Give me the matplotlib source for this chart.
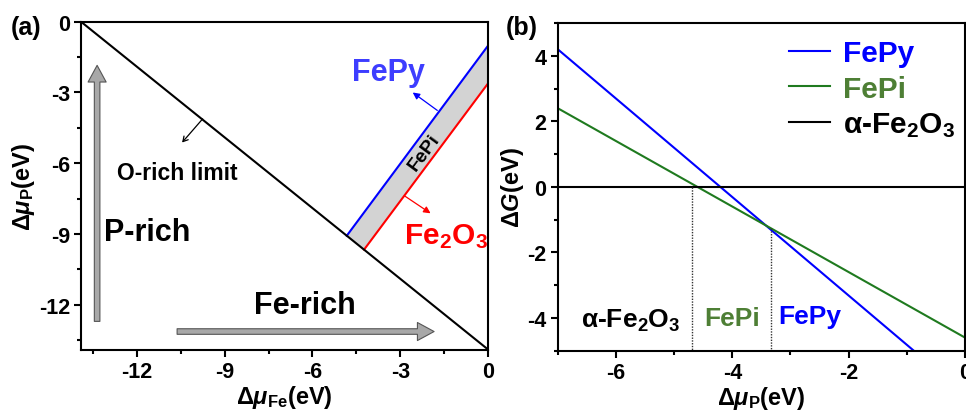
import matplotlib
matplotlib.use("Agg")
import matplotlib.pyplot as plt
from matplotlib.ticker import MultipleLocator

plt.rcParams['font.family'] = ['Liberation Sans', 'DejaVu Sans']
plt.rcParams['font.weight'] = 'bold'
plt.rcParams['axes.labelweight'] = 'bold'
plt.rcParams['axes.unicode_minus'] = False
plt.rcParams['mathtext.fontset'] = 'custom'
plt.rcParams['mathtext.rm'] = 'Liberation Sans:bold'
plt.rcParams['mathtext.bf'] = 'Liberation Sans:bold'
plt.rcParams['mathtext.it'] = 'Liberation Sans:bold:italic'
plt.rcParams['mathtext.default'] = 'bf'

# ---------------- data: panel (a) ----------------
limit_x = [-13.9, 0.0]
limit_y = [0.0, -13.9]
fepy_a_x = [-4.83, 0.0]
fepy_a_y = [-9.07, -1.0]
fe2o3_a_x = [-4.24, 0.0]
fe2o3_a_y = [-9.66, -2.6]
a_xticks = [-12, -9, -6, -3, 0]
a_yticks = [0, -3, -6, -9, -12]

# ---------------- data: panel (b) ----------------
fepy_b_x = [-7.0, -0.88]
fepy_b_y = [4.2, -5.0]
fepi_b_x = [-7.0, 0.0]
fepi_b_y = [2.4, -4.6]
fe2o3_b_x = [-7.0, 0.0]
fe2o3_b_y = [0.0, 0.0]
boundary_x = [-4.7, -3.34]
boundary_top = [0.0, -1.27]
b_xticks = [-6, -4, -2, 0]
b_yticks = [-4, -2, 0, 2, 4]

BLUE = '#0000ff'
RED = '#ff0000'
GREEN_LINE = '#1f7a1f'
GREEN_TEXT = '#4e7f35'

fig = plt.figure(figsize=(9.66, 4.14), dpi=100)
axA = fig.add_axes([81/966, 1-350.7/414, (488.3-81)/966, (350.7-22.7)/414])
axB = fig.add_axes([557.7/966, 1-351.7/414, (965-557.7)/966, (351.7-24)/414])

def style(ax):
    for s in ax.spines.values():
        s.set_linewidth(1.5)
    ax.tick_params(which='both', direction='out', top=False, right=False,
                   labelsize=15.5, width=1.5)
    ax.tick_params(which='major', length=5, pad=3)
    ax.tick_params(which='minor', length=3)
    for lab in ax.get_xticklabels() + ax.get_yticklabels():
        lab.set_fontweight('bold')

# ---------------- panel (a) ----------------
axA.set_xlim(limit_x[0], 0)
axA.set_ylim(limit_y[1], 0)
axA.plot(limit_x, limit_y, color='black', lw=1.5, zorder=3)
poly_x = [fepy_a_x[0], fepy_a_x[1], fe2o3_a_x[1], fe2o3_a_x[0]]
poly_y = [fepy_a_y[0], fepy_a_y[1], fe2o3_a_y[1], fe2o3_a_y[0]]
axA.fill(poly_x, poly_y, color='#d3d3d3', lw=0, zorder=1)
axA.plot(fepy_a_x, fepy_a_y, color=BLUE, lw=1.5, zorder=2)
axA.plot(fe2o3_a_x, fe2o3_a_y, color=RED, lw=1.5, zorder=2)
axA.set_xticks(a_xticks)
axA.set_yticks(a_yticks)
axA.xaxis.set_minor_locator(MultipleLocator(1.5))
axA.yaxis.set_minor_locator(MultipleLocator(1.5))
style(axA)
axA.set_xlabel(r'$\mathit{\Delta\mu}_{\mathrm{Fe}}$(eV)', fontsize=17, fontweight='bold', labelpad=1)
axA.set_ylabel(r'$\mathit{\Delta\mu}_{\mathrm{P}}$(eV)', fontsize=17, fontweight='bold', labelpad=1)

big_arrow = dict(arrowstyle='simple,head_width=13,head_length=12,tail_width=4',
                 mutation_scale=1, fc='#a8a8a8', ec='#555555', lw=0.8,
                 shrinkA=0, shrinkB=0)
axA.annotate('', xy=(-13.35, -1.85), xytext=(-13.35, -12.7), arrowprops=big_arrow)
axA.annotate('', xy=(-1.85, -13.13), xytext=(-10.62, -13.13), arrowprops=big_arrow)

axA.text(-11.65, -8.9, 'P-rich', fontsize=22, fontweight='bold', ha='center', va='center')
axA.text(-6.25, -12.0, 'Fe-rich', fontsize=22, fontweight='bold', ha='center', va='center')
axA.text(-10.6, -6.4, 'O-rich limit', fontsize=16.5, fontweight='bold', ha='center', va='center')
axA.annotate('', xy=(-10.45, -5.12), xytext=(-9.75, -4.12),
             arrowprops=dict(arrowstyle='->,head_length=0.35,head_width=0.2', color='black',
                             lw=0.9, shrinkA=0, shrinkB=0, mutation_scale=10))
axA.text(-3.4, -2.15, 'FePy', fontsize=22, fontweight='bold', color='#3d3dff',
         ha='center', va='center')
axA.annotate('', xy=(-2.58, -3.0), xytext=(-1.74, -3.76),
             arrowprops=dict(arrowstyle='-|>,head_length=0.4,head_width=0.2', color=BLUE,
                             lw=0.9, shrinkA=0, shrinkB=0, mutation_scale=10))
axA.text(-1.45, -9.05, r'Fe$_2$O$_3$', fontsize=21.5, fontweight='bold', color=RED,
         ha='center', va='center')
axA.annotate('', xy=(-1.97, -8.12), xytext=(-2.86, -7.38),
             arrowprops=dict(arrowstyle='-|>,head_length=0.4,head_width=0.2', color=RED,
                             lw=0.9, shrinkA=0, shrinkB=0, mutation_scale=10))
axA.text(-2.18, -5.5, 'FePi', fontsize=14, fontweight='bold', color='black',
         rotation=53.5, ha='center', va='center', rotation_mode='anchor')
fig.text(26/966, 1-28/414, '(a)', fontsize=18, fontweight='bold', ha='center', va='center')

# ---------------- panel (b) ----------------
axB.set_xlim(-7, 0)
axB.set_ylim(-5, 5)
axB.plot(fepy_b_x, fepy_b_y, color=BLUE, lw=1.5, label='FePy')
axB.plot(fepi_b_x, fepi_b_y, color=GREEN_LINE, lw=1.5, label='FePi')
axB.plot(fe2o3_b_x, fe2o3_b_y, color='black', lw=1.5, label=r'α-Fe$_2$O$_3$')
for bx, bt in zip(boundary_x, boundary_top):
    axB.plot([bx, bx], [bt, -5], color='#333333', lw=1.0, ls=(0, (1, 1)))
axB.set_xticks(b_xticks)
axB.set_yticks(b_yticks)
axB.xaxis.set_minor_locator(MultipleLocator(1))
axB.yaxis.set_minor_locator(MultipleLocator(1))
style(axB)
axB.set_xlabel(r'$\mathit{\Delta\mu}_{\mathrm{P}}$(eV)', fontsize=17, fontweight='bold', labelpad=1)
axB.set_ylabel(r'$\mathit{\Delta G}$(eV)', fontsize=17, fontweight='bold', labelpad=1)

leg = axB.legend(loc='upper right', bbox_to_anchor=(1.02, 1.005), frameon=False,
                 fontsize=21.5, handlelength=1.35, handletextpad=0.45, labelspacing=0.25,
                 borderaxespad=0.2)
for txt, c in zip(leg.get_texts(), [BLUE, GREEN_TEXT, 'black']):
    txt.set_color(c)
    txt.set_fontweight('bold')

axB.text(-5.74, -4.05, r'α-Fe$_2$O$_3$', fontsize=19, fontweight='bold', color='black',
         ha='center', va='center')
axB.text(-4.0, -4.0, 'FePi', fontsize=19, fontweight='bold', color=GREEN_TEXT,
         ha='center', va='center')
axB.text(-2.66, -3.95, 'FePy', fontsize=19, fontweight='bold', color=BLUE,
         ha='center', va='center')
fig.text(522/966, 1-28/414, '(b)', fontsize=18, fontweight='bold', ha='center', va='center')

fig.savefig('out.png', dpi=100)
